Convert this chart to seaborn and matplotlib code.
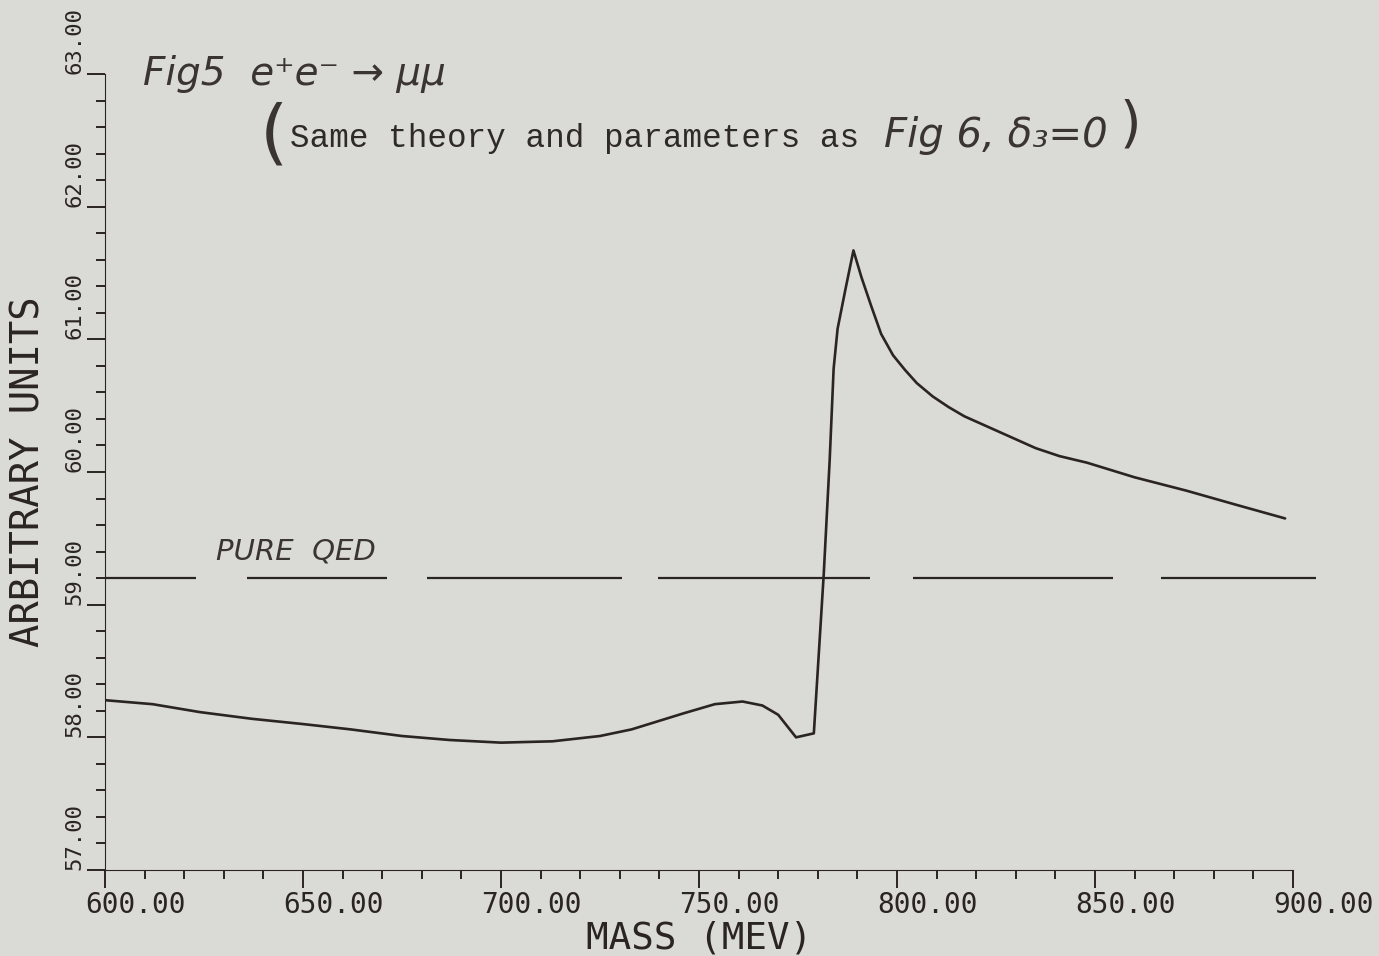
import matplotlib
matplotlib.use("Agg")
import matplotlib.pyplot as plt
import numpy as np
import pandas as pd
import seaborn as sns
from matplotlib import font_manager
from matplotlib.ticker import MultipleLocator
from matplotlib.transforms import ScaledTranslation

# ---------------- data ----------------
mass_mev = [600, 612, 624, 637, 650, 662, 675, 687, 700, 713, 725, 733, 746,
            754, 761, 766, 770, 774.5, 779, 781.5, 783, 784, 785, 787, 789,
            791, 793.5, 796, 799, 802, 805, 809, 813, 817, 823, 829, 835, 841,
            848, 860, 873, 886, 898]
amplitude = [58.28, 58.25, 58.19, 58.14, 58.10, 58.06, 58.01, 57.98, 57.96,
             57.97, 58.01, 58.06, 58.18, 58.25, 58.27, 58.24, 58.17, 58.00,
             58.03, 59.23, 60.09, 60.78, 61.08, 61.38, 61.67,
             61.47, 61.25, 61.04, 60.88, 60.77, 60.67, 60.57, 60.49, 60.42,
             60.34, 60.26, 60.18, 60.12, 60.07, 59.96, 59.86, 59.75, 59.65]
qed_level = 59.2
qed_span = [600, 906]
x_ticks = [600, 650, 700, 750, 800, 850, 900]
y_ticks = [57, 58, 59, 60, 61, 62, 63]

# style
BG = "#dadad6"
INK = "#2a2422"
PEN = "#3a3432"
qed_dash_px = [91, 51, 140, 40, 195, 36, 212, 43, 200, 48, 155, 60]

sns.set_style("ticks", rc={
    "axes.facecolor": BG, "figure.facecolor": BG, "axes.edgecolor": INK,
    "xtick.color": INK, "ytick.color": INK, "axes.linewidth": 1.4,
})
plt.rcParams["lines.scale_dashes"] = False

names = {f.name for f in font_manager.fontManager.ttflist}
if "Liberation Sans Narrow" in names:
    plot_font = ["Liberation Sans Narrow", "DejaVu Sans"]
    xt_size, yt_size, lab_size = 26, 20, 32
else:
    plot_font = ["DejaVu Sans Mono", "DejaVu Sans"]
    xt_size, yt_size, lab_size = 20, 16, 27
plt.rcParams["font.family"] = plot_font

W, H = 1379, 956
fig = plt.figure(figsize=(W / 100, H / 100), dpi=100, facecolor=BG)
ax = fig.add_axes([105 / W, 86 / H, 1188 / W, 796 / H])
ax.set_facecolor(BG)

df = pd.DataFrame({"mass": mass_mev, "amp": amplitude})
sns.lineplot(data=df, x="mass", y="amp", ax=ax, color=INK, linewidth=1.9,
             errorbar=None)
ax.plot(qed_span, [qed_level, qed_level], color=INK, linewidth=1.6,
        clip_on=False, linestyle=(0, tuple(d * 0.72 for d in qed_dash_px)))

ax.set_xlim(600, 900)
ax.set_ylim(57, 63)
ax.set_xticks(x_ticks)
ax.set_yticks(y_ticks)
ax.set_xticklabels([f"{v:.2f}" for v in x_ticks])
ax.set_yticklabels([f"{v:.2f}" for v in y_ticks])
ax.xaxis.set_minor_locator(MultipleLocator(10))
ax.yaxis.set_minor_locator(MultipleLocator(0.2))
ax.tick_params(which="major", length=13, width=1.4, color=INK, direction="out")
ax.tick_params(which="minor", length=6.5, width=1.4, color=INK, direction="out")
ax.tick_params(axis="x", pad=2, labelsize=xt_size, labelcolor=INK)
ax.tick_params(axis="y", pad=2, labelsize=yt_size, labelcolor=INK)
for lab in ax.get_yticklabels():
    lab.set_rotation(90)
    lab.set_va("bottom")
for lab in ax.get_xticklabels():
    lab.set_transform(lab.get_transform()
                      + ScaledTranslation(0.30, 0, fig.dpi_scale_trans))

ax.set_xlabel("MASS (MEV)", fontsize=lab_size, color=INK)
ax.set_ylabel("ARBITRARY UNITS", fontsize=lab_size + 1, color=INK)
ax.xaxis.set_label_coords(0.5, -0.064)
ax.yaxis.set_label_coords(-0.048, 0.5)
ax.grid(False)
sns.despine(ax=ax)

# annotations
ax.text(628, qed_level + 0.14, "PURE  QED", fontsize=21, style="italic",
        family=["DejaVu Sans"], color=PEN, va="baseline")

fig.text(143 / W, 1 - 85 / H, "Fig5  e\u207ae\u207b \u2192 \u03bc\u03bc",
         fontsize=28, style="italic", family=["DejaVu Sans"], color=PEN,
         va="baseline")
fig.text(260 / W, 1 - 136 / H, "(", fontsize=52, family=["DejaVu Sans"],
         color=PEN, va="center", ha="left")
fig.text(290 / W, 1 - 147 / H, "Same theory and parameters as",
         fontsize=23.5, family=["Liberation Mono", "DejaVu Sans Mono"],
         color="#2e2a28", va="baseline")
fig.text(884 / W, 1 - 147 / H, "Fig 6, \u03b4\u2083=0", fontsize=29,
         style="italic", family=["DejaVu Sans"], color=PEN, va="baseline")
fig.text(1120 / W, 1 - 126 / H, ")", fontsize=40, family=["DejaVu Sans"],
         color=PEN, va="center", ha="left")

fig.savefig("out.png", dpi=100, facecolor=BG)
